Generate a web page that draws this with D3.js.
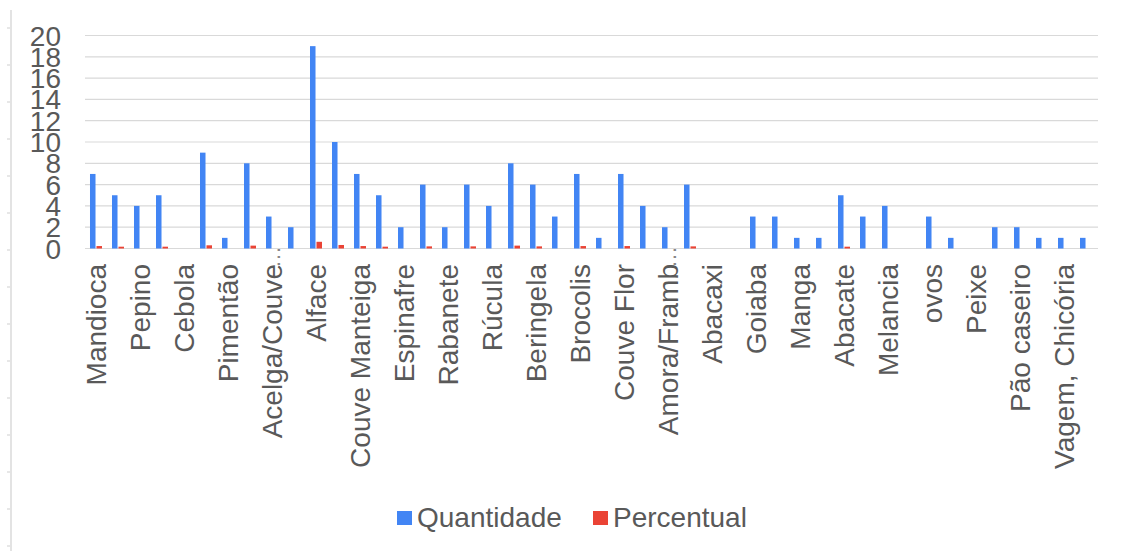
<!DOCTYPE html>
<html>
<head>
<meta charset="utf-8">
<script src="https://cdn.jsdelivr.net/npm/d3@7"></script>
<style>
  body { margin: 0; background: #fff; }
  text { font-family: "Liberation Sans", Arial, sans-serif; fill: #595959; }
</style>
</head>
<body>
<div id="plot"></div>
<script>
// categories (only every other label is shown on the axis, the rest are unreadable)
const categories = [
  'Mandioca', '', 'Pepino', '', 'Cebola', '', 'Pimentão', '', 'Acelga/Couve…', '',
  'Alface', '', 'Couve Manteiga', '', 'Espinafre', '', 'Rabanete', '', 'Rúcula', '',
  'Beringela', '', 'Brocolis', '', 'Couve Flor', '', 'Amora/Framb…', '', 'Abacaxi', '',
  'Goiaba', '', 'Manga', '', 'Abacate', '', 'Melancia', '', 'ovos', '',
  'Peixe', '', 'Pão caseiro', '', 'Vagem, Chicória', ''
];
const quantidade = [
  7, 5, 4, 5, 0, 9, 1, 8, 3, 2,
  19, 10, 7, 5, 2, 6, 2, 6, 4, 8,
  6, 3, 7, 1, 7, 4, 2, 6, 0, 0,
  3, 3, 1, 1, 5, 3, 4, 0, 3, 1,
  0, 2, 2, 1, 1, 1
];
const percentual = [
  0.23, 0.17, 0, 0.17, 0, 0.3, 0, 0.27, 0, 0,
  0.63, 0.33, 0.23, 0.17, 0, 0.2, 0, 0.2, 0, 0.27,
  0.2, 0, 0.23, 0, 0.23, 0, 0, 0.2, 0, 0,
  0, 0, 0, 0, 0.17, 0, 0, 0, 0, 0,
  0, 0, 0, 0, 0, 0
];
const series = ['Quantidade', 'Percentual'];
const colors = ['#4285f4', '#ea4335'];
const yTicks = [0, 2, 4, 6, 8, 10, 12, 14, 16, 18, 20];

const width = 1121;
const height = 551;
const plotLeft = 85, plotRight = 1097, plotTop = 35.5, plotBottom = 248.5;
const fontSize = 28;
const labelY = 264;

var svg = d3.select('#plot')
  .append('svg')
  .attr('width', width)
  .attr('height', height);

// faint sheet edge on the left
svg.append('line')
  .attr('x1', 11).attr('x2', 11)
  .attr('y1', 10).attr('y2', height)
  .attr('stroke', '#e3e3e3')
  .attr('stroke-width', 2);
svg.selectAll('.edgeTick')
  .data(d3.range(28, height, 37))
  .enter()
  .append('line')
  .attr('x1', 7).attr('x2', 10)
  .attr('y1', d => d).attr('y2', d => d)
  .attr('stroke', '#cfcfcf');

const idx = d3.range(categories.length);

const xScale = d3.scaleBand()
  .domain(idx)
  .range([plotLeft, plotRight])
  .paddingInner(0.4545)
  .paddingOuter(0.227);

const xInner = d3.scaleBand()
  .domain(series)
  .range([0, xScale.bandwidth()])
  .paddingInner(0.15);

const yScale = d3.scaleLinear()
  .domain([0, 20])
  .range([plotBottom, plotTop]);

// gridlines
svg.append('g')
  .selectAll('line')
  .data(yTicks)
  .enter()
  .append('line')
  .attr('x1', plotLeft)
  .attr('x2', plotRight + 1)
  .attr('y1', d => yScale(d))
  .attr('y2', d => yScale(d))
  .attr('stroke', '#d9d9d9')
  .attr('stroke-width', 1.2);

// y labels (they overlap each other in the original too)
svg.append('g')
  .selectAll('text')
  .data(yTicks)
  .enter()
  .append('text')
  .attr('x', 61)
  .attr('y', d => yScale(d))
  .attr('dy', '0.36em')
  .attr('text-anchor', 'end')
  .style('font-size', fontSize + 'px')
  .text(d => d);

// bars
const values = [quantidade, percentual];
series.forEach((s, k) => {
  svg.append('g')
    .selectAll('rect')
    .data(idx.filter(i => values[k][i] > 0))
    .enter()
    .append('rect')
    .attr('x', i => xScale(i) + xInner(s))
    .attr('width', xInner.bandwidth())
    .attr('y', i => yScale(values[k][i]))
    .attr('height', i => yScale(0) - yScale(values[k][i]))
    .attr('fill', colors[k]);
});

// category labels (rotated), a trailing ellipsis sticks out above the anchor
var labels = svg.append('g')
  .selectAll('g')
  .data(idx.filter(i => categories[i] !== ''))
  .enter()
  .append('g')
  .attr('transform', i => 'translate(' + (xScale(i) + xScale.bandwidth() / 2) + ',' + labelY + ') rotate(-90)');

labels.append('text')
  .attr('dy', '0.36em')
  .attr('text-anchor', 'end')
  .style('font-size', fontSize + 'px')
  .text(i => categories[i].replace('…', ''));

labels.filter(i => categories[i].endsWith('…'))
  .append('text')
  .attr('x', -4)
  .attr('dy', '0.36em')
  .attr('text-anchor', 'start')
  .style('font-size', (fontSize - 6) + 'px')
  .style('fill', '#888')
  .text('…');

// legend
const legend = svg.append('g');
const legendX = [397, 593];
series.forEach((s, k) => {
  legend.append('rect')
    .attr('x', legendX[k])
    .attr('y', 511)
    .attr('width', 15)
    .attr('height', 14)
    .attr('fill', colors[k]);
  legend.append('text')
    .attr('x', legendX[k] + 20)
    .attr('y', 527)
    .style('font-size', fontSize + 'px')
    .text(s);
});
</script>
</body>
</html>
